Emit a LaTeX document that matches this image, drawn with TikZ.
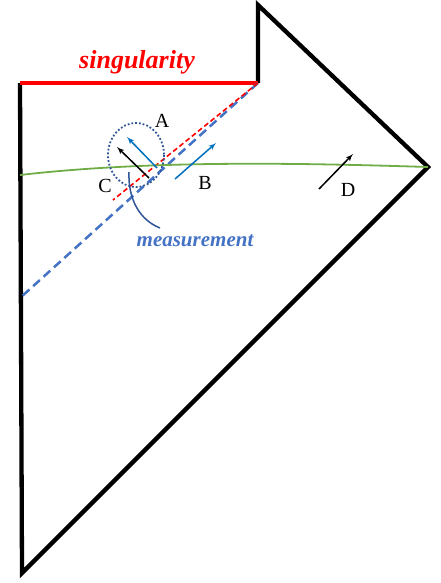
\documentclass[tikz,border=0pt]{standalone}
\usepackage{fontspec}
\setmainfont{Liberation Serif}
\usetikzlibrary{arrows,positioning}
\definecolor{dashblue}{HTML}{4472C4}
\definecolor{arrowblue}{HTML}{0070C0}
\definecolor{darkblue}{HTML}{2F5597}
\definecolor{grass}{HTML}{70AD47}

\begin{document}
\begin{tikzpicture}[x=1pt,y=-1pt]
\tikzstyle{wall}=[line width=4.3pt, black, line join=miter]
\tikzstyle{spin}=[->, >=latex', line width=1.5pt]
\tikzstyle{letter}=[font=\fontsize{20}{20}\selectfont, inner sep=0pt]
\useasboundingbox (0,0) rectangle (441,583);
\coordinate (tl) at (20,83);
\coordinate (bot) at (22,573);
\coordinate (tip) at (428,167);
\coordinate (top) at (258,5);
\coordinate (sing) at (258,83);
%\coordinate (mid) at (20,298);

% outline and singularity
\draw[wall] (tl) -- (bot) -- (tip) -- (top) -- (sing);
\draw[red, line width=4pt] (tl) -- (sing);
\node[red, font=\fontsize{26}{26}\selectfont\bfseries\itshape] (0) at (137,62) {singularity};

% horizons
\draw[dashblue, dashed, line width=2.5pt, dash pattern=on 9pt off 5pt] (sing) -- (20,298);
\draw[red, dashed, line width=1.6pt, dash pattern=on 5pt off 3pt] (sing) -- (113,200);
\draw[grass, line width=1.8pt] (20,175) .. controls (150,160) and (300,163) .. (tip);

% measurement region
\draw[darkblue, dotted, line width=1.8pt] (136,155) ellipse (28 and 32);
\coordinate (m0) at (129,172);
\node[dashblue, font=\fontsize{21}{21}\selectfont\bfseries\itshape] (1) at (195,241) {measurement};
\draw[darkblue, line width=1.5pt] (m0) .. controls (128,200) and (140,220) .. (160,228);

% spins
\draw[spin, arrowblue] (157,168) -- (127,137);
\draw[spin, arrowblue] (175,179) -- (216,143);
\draw[spin, black] (149,178) -- (117,147);
\draw[spin, black] (319,189) -- (353,154);
\node[letter] (A) at (162,121) {A};
\node[letter] (B) at (205,183) {B};
\node[letter] (C) at (105,186) {C};
\node[letter] (D) at (348,190) {D};
\end{tikzpicture}
\end{document}
